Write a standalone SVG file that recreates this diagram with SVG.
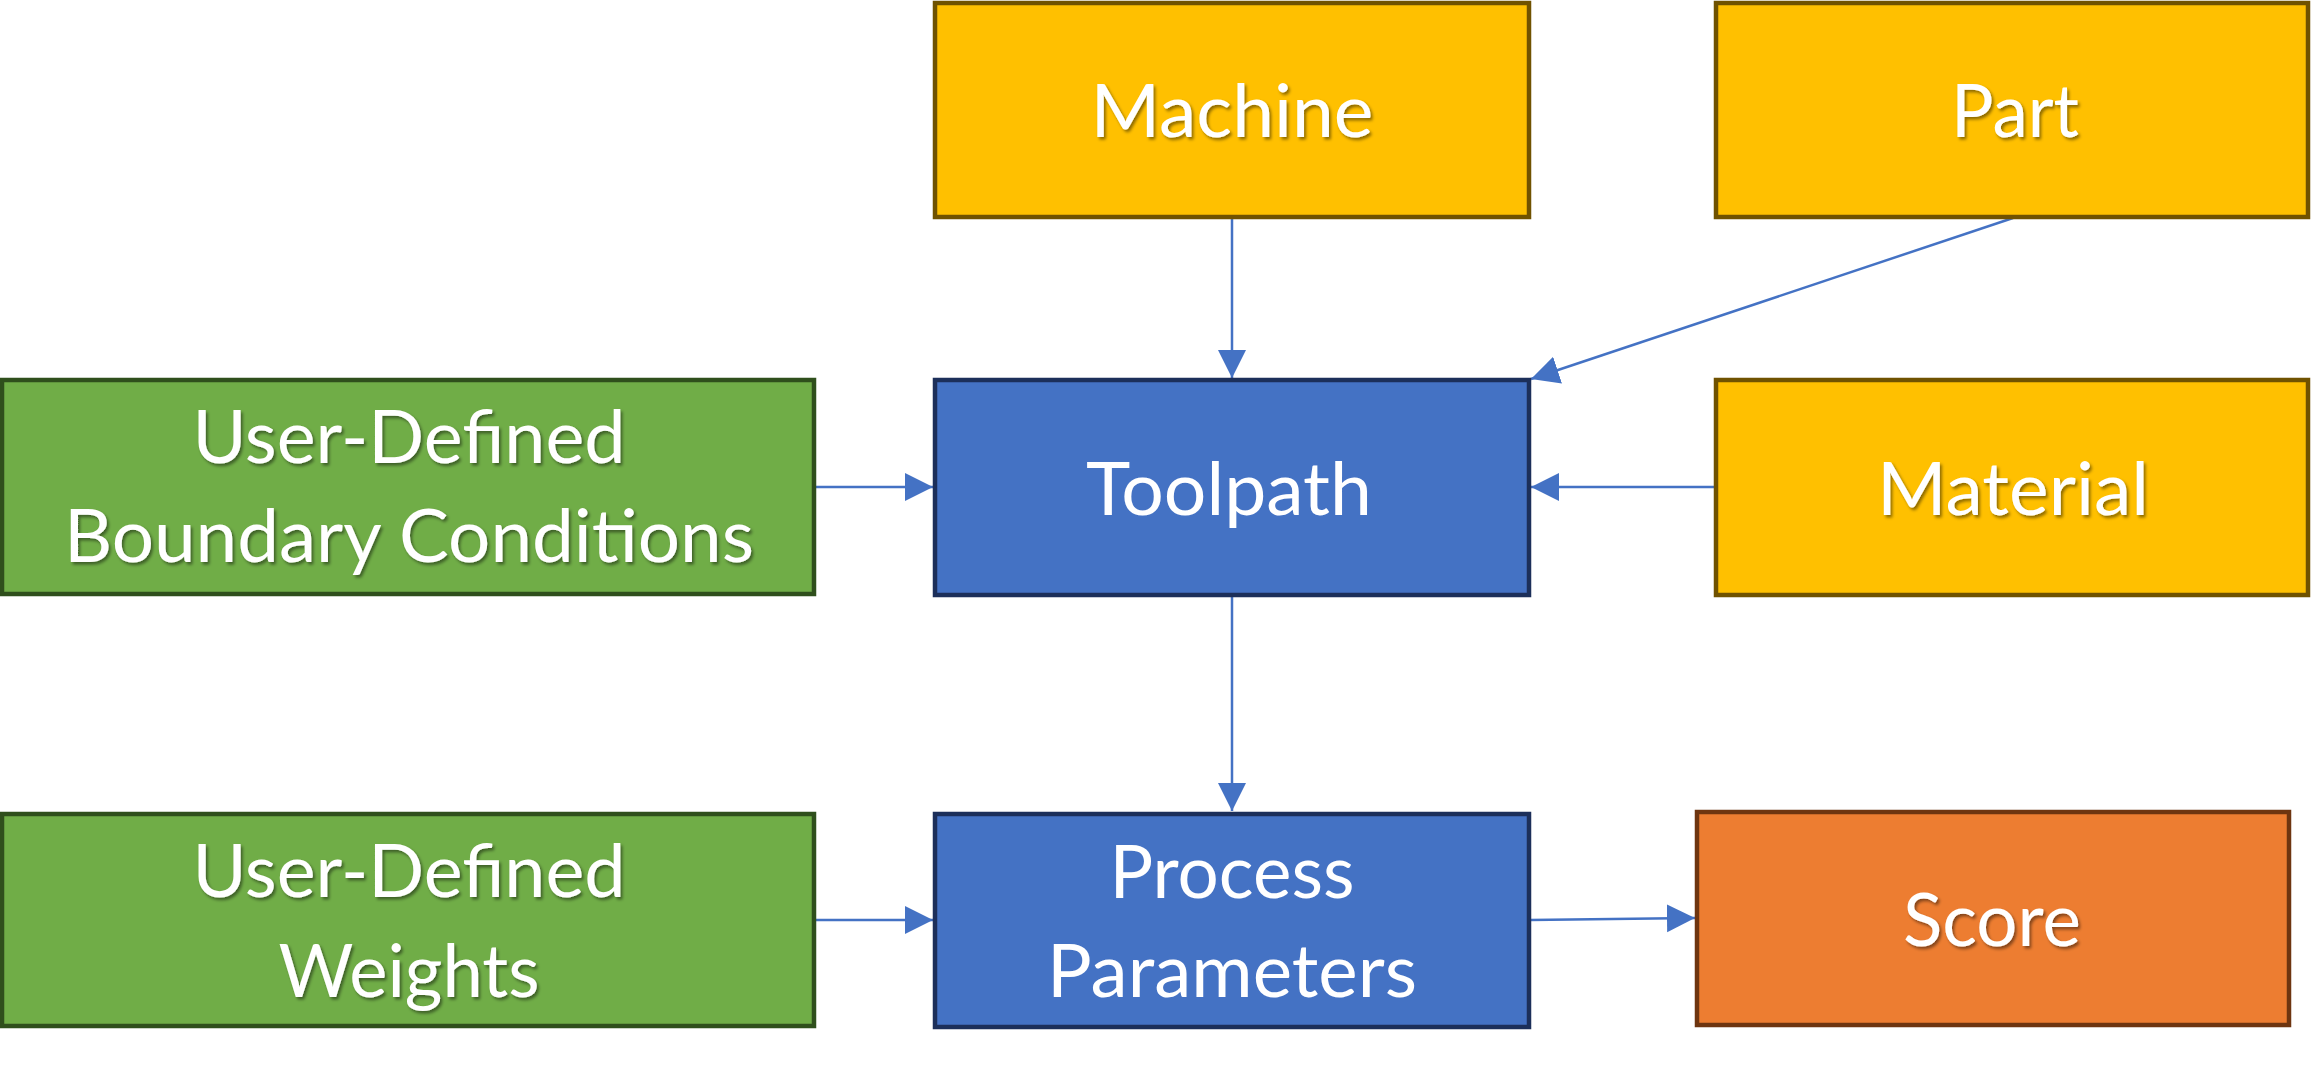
<svg xmlns="http://www.w3.org/2000/svg" width="2312" height="1076" viewBox="0 0 2312 1076">
<style>
.box{stroke-width:4.5}
.y{fill:#FFC000;stroke:#705200}
.g{fill:#70AD47;stroke:#2F4F1C}
.b{fill:#4472C4;stroke:#1C2F5A}
.o{fill:#ED7D31;stroke:#6E3510}
.t{font-family:Lato,"Open Sans","Liberation Sans",sans-serif;font-weight:400;font-size:74px;fill:#FFFFFF;text-anchor:middle}
.sh{filter:url(#shadow)}
.c{stroke:#4472C4;stroke-width:2.5;fill:none;marker-end:url(#arr)}
</style>
<defs>
<filter id="shadow" x="-10%" y="-30%" width="120%" height="160%">
<feDropShadow dx="2" dy="2.5" stdDeviation="1.5" flood-color="#000000" flood-opacity="0.45"/>
</filter>
<marker id="arr" markerUnits="userSpaceOnUse" markerWidth="30" markerHeight="30" refX="28" refY="14" orient="auto" viewBox="0 0 30 30">
<path d="M0,0 L28,14 L0,28 Z" fill="#4472C4"/>
</marker>
</defs>
<rect width="2312" height="1076" fill="#FFFFFF"/>
<g id="connectors">
<line class="c" x1="1232" y1="217" x2="1232" y2="378"/>
<line class="c" x1="2013" y1="218" x2="1531" y2="379"/>
<line class="c" x1="815" y1="487" x2="933" y2="487"/>
<line class="c" x1="1716" y1="487" x2="1531" y2="487"/>
<line class="c" x1="1232" y1="596" x2="1232" y2="811"/>
<line class="c" x1="815" y1="920" x2="933" y2="920"/>
<line class="c" x1="1530" y1="920" x2="1695" y2="918"/>
</g>
<g id="machine">
<rect class="box y" x="935" y="3" width="594" height="214"/>
<text class="t sh" x="1232" y="137" textLength="283" lengthAdjust="spacingAndGlyphs">Machine</text>
</g>
<g id="part">
<rect class="box y" x="1716" y="3" width="592" height="214"/>
<text class="t sh" x="2015" y="137" textLength="128" lengthAdjust="spacingAndGlyphs">Part</text>
</g>
<g id="boundary">
<rect class="box g" x="2" y="380" width="812" height="214"/>
<text class="t sh" x="409" y="463" textLength="433" lengthAdjust="spacingAndGlyphs">User-Defined</text>
<text class="t sh" x="409" y="562" textLength="690" lengthAdjust="spacingAndGlyphs">Boundary Conditions</text>
</g>
<g id="toolpath">
<rect class="box b" x="935" y="380" width="594" height="215"/>
<text class="t" x="1229" y="515" textLength="286" lengthAdjust="spacingAndGlyphs">Toolpath</text>
</g>
<g id="material">
<rect class="box y" x="1716" y="380" width="592" height="215"/>
<text class="t sh" x="2013" y="515" textLength="272" lengthAdjust="spacingAndGlyphs">Material</text>
</g>
<g id="weights">
<rect class="box g" x="2" y="814" width="812" height="212"/>
<text class="t sh" x="409" y="897" textLength="433" lengthAdjust="spacingAndGlyphs">User-Defined</text>
<text class="t sh" x="409" y="997" textLength="261" lengthAdjust="spacingAndGlyphs">Weights</text>
</g>
<g id="process">
<rect class="box b" x="935" y="814" width="594" height="213"/>
<text class="t" x="1232" y="898" textLength="245" lengthAdjust="spacingAndGlyphs">Process</text>
<text class="t" x="1232" y="997" textLength="370" lengthAdjust="spacingAndGlyphs">Parameters</text>
</g>
<g id="score">
<rect class="box o" x="1697" y="812" width="592" height="213"/>
<text class="t sh" x="1992" y="946" textLength="178" lengthAdjust="spacingAndGlyphs">Score</text>
</g>
</svg>
